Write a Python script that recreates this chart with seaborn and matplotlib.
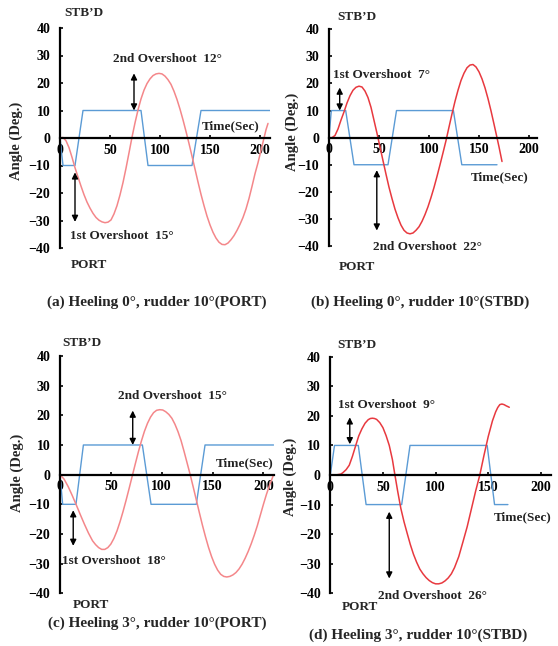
import matplotlib
matplotlib.use("Agg")
import matplotlib.pyplot as plt
import seaborn as sns
import pandas as pd

# ---------------- data ----------------
# Panel (a) heading angle (deg) vs time (s)
a_t = [0, 3, 6, 9, 12, 15, 18, 21, 24, 27,
       30, 33, 36, 39, 42, 45, 48, 51, 54, 57,
       60, 63, 66, 69, 72, 75, 78, 81, 84, 87,
       90, 93, 96, 99, 102, 105, 108, 111, 114, 117,
       120, 123, 126, 129, 132, 135, 138, 141, 144, 147,
       150, 153, 156, 159, 162, 165, 168, 171, 174, 177,
       180, 183, 186, 189, 192, 195, 198, 201, 204, 206, 208]
a_y = [0, 0.2, -1.0, -3.5, -7.0, -10.8, -14.2, -17.5, -20.6, -23.3,
       -25.5, -27.4, -28.9, -29.9, -30.5, -30.8, -30.6, -29.8, -27.6, -24.6,
       -20.7, -16.2, -11.0, -5.4, 0.3, 5.5, 10.2, 14.2, 17.4, 19.8,
       21.5, 22.7, 23.3, 23.5, 23.3, 22.5, 21.2, 19.5, 17.0, 14.0,
       10.5, 6.6, 2.4, -2.0, -6.6, -11.3, -16.0, -20.5, -24.6, -28.4,
       -31.6, -34.3, -36.4, -37.9, -38.7, -38.8, -38.2, -37.0, -35.5, -33.6,
       -31.4, -28.9, -25.8, -22.0, -17.6, -13.0, -9.0, -4.5, 0.0, 3.0, 5.3]
# Panel (b)
b_t = [0, 3, 6, 9, 12, 15, 18, 21, 24, 27,
       30, 33, 36, 39, 42, 45, 48, 51, 54, 57,
       60, 63, 66, 69, 72, 75, 78, 81, 84, 87,
       90, 93, 96, 99, 102, 105, 108, 111, 114, 117,
       120, 123, 126, 129, 132, 135, 138, 141, 144, 147,
       150, 153, 156, 159, 162, 165, 168, 170, 173]
b_y = [0, 0, 0.8, 3.2, 6.5, 9.5, 12.8, 15.5, 17.5, 18.6,
       19.0, 18.7, 17.2, 14.8, 11.2, 6.4, 1.6, -3.4, -8.5, -13.5,
       -18.3, -22.5, -26.4, -29.6, -32.3, -34.2, -35.2, -35.5, -35.2, -34.2,
       -32.9, -30.9, -28.4, -25.5, -22.1, -18.4, -14.3, -10.0, -5.6, -1.1,
       3.9, 8.8, 13.4, 17.5, 21.1, 23.8, 25.8, 26.8, 27.0, 26.1,
       24.3, 21.7, 18.4, 14.4, 9.9, 5.0, 0, -3.4, -8.8]
# Panel (c)
c_t = [0, 4, 8, 12, 16, 20, 24, 28, 32, 35,
       38, 41, 44, 47, 50, 53, 56, 59, 62, 65,
       68, 71, 74, 77, 80, 83, 86, 89, 92, 95,
       98, 101, 104, 107, 110, 113, 116, 119, 122, 125,
       128, 131, 134, 137, 140, 143, 146, 149, 152, 155,
       158, 161, 164, 167, 170, 173, 176, 179, 182, 185,
       188, 191, 194, 197, 200, 203, 206, 210]
c_y = [0, -1.5, -4.0, -7.0, -10.2, -13.5, -16.7, -19.7, -22.3, -23.6,
       -24.6, -25.2, -25.2, -24.6, -23.4, -21.5, -19.0, -15.9, -12.4, -8.6,
       -4.6, -0.5, 3.6, 7.6, 11.3, 14.6, 17.3, 19.4, 20.9, 21.7,
       21.9, 21.8, 21.2, 20.3, 19.0, 17.0, 14.5, 11.5, 7.8, 3.9,
       0, -4.2, -8.5, -12.8, -17.0, -20.9, -24.5, -27.6, -30.2, -32.2,
       -33.6, -34.3, -34.5, -34.3, -33.8, -33.0, -31.8, -30.2, -28.2, -25.9,
       -23.3, -20.4, -17.2, -13.6, -10.0, -6.6, -3.6, 0]
# Panel (d)
d_t = [0, 5, 10, 12, 15, 18, 21, 24, 27, 30,
       33, 36, 38, 40, 42, 44, 47, 50, 53, 56,
       59, 61, 64, 67, 70, 73, 76, 79, 82, 85,
       88, 91, 94, 97, 100, 103, 106, 109, 112, 115,
       118, 122, 126, 130, 134, 138, 142, 146, 150, 154,
       157, 159, 161, 163, 165, 167, 170]
d_y = [0, 0, 0.3, 0.8, 1.8, 3.3, 6.3, 9.8, 13.2, 15.6,
       17.5, 18.7, 19.1, 19.2, 19.1, 18.8, 17.7, 16.0, 13.3, 10.0,
       5.2, 0.8, -5.5, -11.3, -15.8, -19.7, -23.5, -26.8, -29.5, -31.8,
       -33.4, -34.7, -35.7, -36.4, -36.8, -36.8, -36.5, -35.8, -34.8, -33.4,
       -31.3, -27.6, -22.6, -17.5, -11.5, -5.5, 0, 6.7, 13.0, 18.3,
       21.3, 22.8, 23.8, 24.0, 23.8, 23.4, 22.9]

# Rudder angle (deg) vs time (s)
a_rt = [0, 3, 15, 23, 81, 88, 132, 141, 210]
a_ry = [0, -10, -10, 10, 10, -10, -10, 10, 10]
b_rt = [0, 2.3, 16.7, 25, 59, 67.5, 124.4, 132.8, 168]
b_ry = [0, 10, 10, -10, -10, 10, 10, -10, -10]
c_rt = [0, 2.6, 15.7, 23, 81, 89.5, 134, 142.6, 210]
c_ry = [0, -10, -10, 10, 10, -10, -10, 10, 10]
d_rt = [0, 4, 26.6, 34, 67.8, 75.7, 149, 156, 168.7]
d_ry = [0, 10, 10, -10, -10, 10, 10, -10, -10]

captions = ["(a) Heeling 0°, rudder 10°(PORT)", "(b) Heeling 0°, rudder 10°(STBD)",
            "(c) Heeling 3°, rudder 10°(PORT)", "(d) Heeling 3°, rudder 10°(STBD)"]
first_labels = ["1st Overshoot  15°", "1st Overshoot  7°", "1st Overshoot  18°", "1st Overshoot  9°"]
second_labels = ["2nd Overshoot  12°", "2nd Overshoot  22°", "2nd Overshoot  15°", "2nd Overshoot  26°"]
y_ticks = [-40, -30, -20, -10, 0, 10, 20, 30, 40]
x_ticks = [0, 50, 100, 150, 200]

# ---------------- style ----------------
sns.set_theme(style="white")
plt.rcParams["font.family"] = ["Liberation Serif", "DejaVu Serif"]
plt.rcParams["font.weight"] = "bold"

W, H = 558, 646
fig = plt.figure(figsize=(W / 100, H / 100), dpi=100)


def px_axes(l, r, t, b):
    return [l / W, 1 - b / H, (r - l) / W, (b - t) / H]


def ftext(x, y, s, **kw):
    fig.text(x / W, 1 - y / H, s, **kw)


RED_LIGHT = "#F4878A"
RED_DARK = "#E8393F"
BLUE = "#5B9BD5"

panels = [
    dict(box=(60, 270, 28, 248), xmax=210, t=a_t, y=a_y, rt=a_rt, ry=a_ry, red=RED_LIGHT,
         arr1=(15, -12.5, -30.5), arr2=(74, 23.5, 10), txt1=(10, -35.5), txt2=(53, 28.7),
         time=(200, 4.1), stbd=(84, 13), port=(89, 265), cap=(157, 302), ylab=(16, 141)),
    dict(box=(329, 537, 29.3, 246), xmax=208, t=b_t, y=b_y, rt=b_rt, ry=b_ry, red=RED_DARK,
         arr1=(10.7, 18.5, 10), arr2=(47.8, -12, -34.3), txt1=(4, 23), txt2=(44, -40.2),
         time=(200, -14.8), stbd=(357, 17), port=(357, 267), cap=(420, 302), ylab=(292, 132)),
    dict(box=(60, 273.6, 356, 593.3), xmax=210, t=c_t, y=c_y, rt=c_rt, ry=c_ry, red=RED_LIGHT,
         arr1=(13, -12, -24), arr2=(71.5, 21.6, 10), txt1=(2, -29), txt2=(57, 26.6),
         time=(210, 3.8), stbd=(82, 343), port=(91, 605), cap=(157, 623), ylab=(17, 473)),
    dict(box=(330.3, 551.4, 356.7, 593.3), xmax=210, t=d_t, y=d_y, rt=d_rt, ry=d_ry, red=RED_DARK,
         arr1=(18.5, 19.5, 10.4), arr2=(56, -12.4, -35), txt1=(7.3, 23.7), txt2=(45, -41),
         time=(210, -14.3), stbd=(357, 345), port=(360, 607), cap=(418, 635), ylab=(290, 477)),
]

for i, p in enumerate(panels):
    ax = fig.add_axes(px_axes(*p["box"]))
    rud = pd.DataFrame({"t": p["rt"], "angle": p["ry"]})
    hdg = pd.DataFrame({"t": p["t"], "angle": p["y"]})
    sns.lineplot(data=rud, x="t", y="angle", ax=ax, color=BLUE, linewidth=1.0,
                 estimator=None, sort=False, zorder=2)
    sns.lineplot(data=hdg, x="t", y="angle", ax=ax, color=p["red"], linewidth=1.1,
                 estimator=None, sort=False, zorder=3, solid_joinstyle="round")
    ax.set_xlim(0, p["xmax"])
    ax.set_ylim(-40, 40)
    ax.set_xticks(x_ticks)
    ax.set_yticks(y_ticks)
    ax.set_xlabel("")
    ax.set_ylabel("")
    ax.grid(False)
    for s in ["top", "right"]:
        ax.spines[s].set_visible(False)
    ax.spines["bottom"].set_position(("data", 0))
    for s in ["left", "bottom"]:
        ax.spines[s].set_color("black")
        ax.spines[s].set_linewidth(1.6)
        ax.spines[s].set_zorder(4)
    ax.tick_params(axis="y", direction="in", length=2.5, width=1.2, pad=7,
                   labelsize=10, colors="black", left=True)
    ax.tick_params(axis="x", direction="in", length=2.5, width=1.2, pad=4,
                   labelsize=10, colors="black", bottom=True)
    for lab in ax.get_xticklabels() + ax.get_yticklabels():
        lab.set_fontweight("bold")

    arrow = dict(arrowstyle="<|-|>", color="black", lw=1.0, mutation_scale=9,
                 shrinkA=0, shrinkB=0)
    x1, ya, yb = p["arr1"]
    ax.annotate("", xy=(x1, yb), xytext=(x1, ya), arrowprops=arrow, zorder=5)
    x2, ya, yb = p["arr2"]
    ax.annotate("", xy=(x2, yb), xytext=(x2, ya), arrowprops=arrow, zorder=5)

    ax.text(*p["txt1"], first_labels[i], ha="left", va="center", fontsize=9.5,
            fontweight="bold", color="#222222", zorder=6)
    ax.text(*p["txt2"], second_labels[i], ha="left", va="center", fontsize=9.5,
            fontweight="bold", color="#222222", zorder=6)
    ax.text(*p["time"], "Time(Sec)", ha="right", va="center", fontsize=9.5,
            fontweight="bold", color="#222222", zorder=6,
            bbox=dict(facecolor="white", edgecolor="none", pad=0.5))

    ftext(*p["stbd"], "STB\u2019D", ha="center", va="center", fontsize=9.5, fontweight="bold")
    ftext(*p["port"], "PORT", ha="center", va="center", fontsize=9.5, fontweight="bold")
    ftext(*p["cap"], captions[i], ha="center", va="center", fontsize=11, fontweight="bold")
    ftext(*p["ylab"], "Angle (Deg.)", ha="center", va="center", rotation=90,
          fontsize=10.5, fontweight="bold")

fig.savefig("out.png", dpi=100)
